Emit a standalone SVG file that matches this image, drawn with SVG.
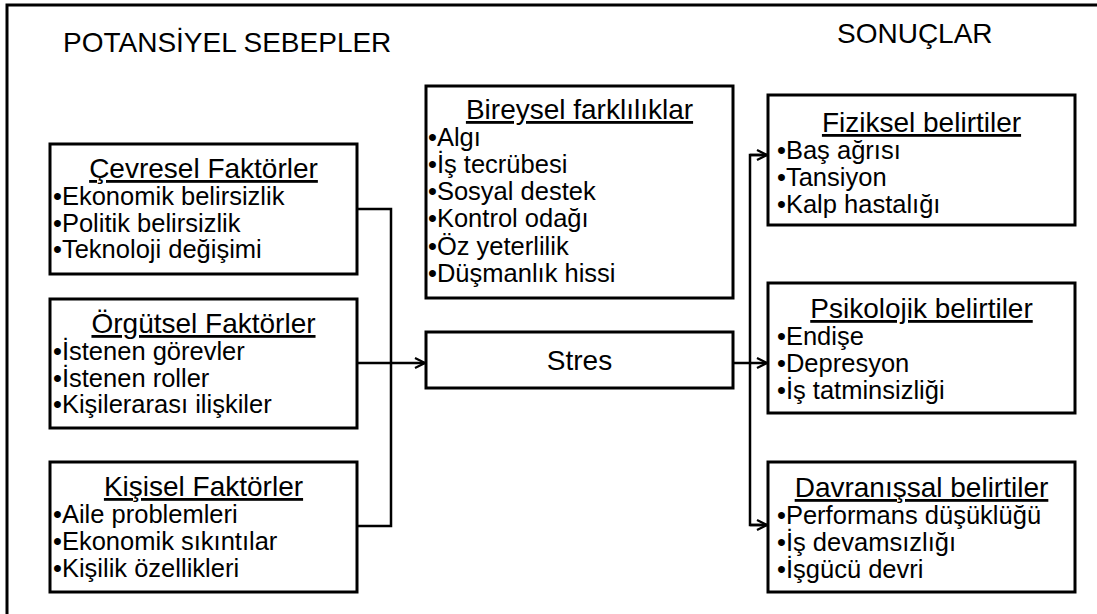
<svg xmlns="http://www.w3.org/2000/svg" width="1097" height="614" viewBox="0 0 1097 614">
<defs>
<style>
text{font-family:"Liberation Sans",Arial,sans-serif;fill:#000}
.title{font-size:28px}
.hd{font-size:28px;text-anchor:middle;text-decoration:underline}
.it{font-size:25.5px}
.box{fill:#fff;stroke:#000;stroke-width:3}
.con{fill:none;stroke:#000;stroke-width:2.5}
</style>
<marker id="ah" viewBox="0 0 12 12" refX="11" refY="6" markerWidth="12" markerHeight="12" markerUnits="userSpaceOnUse" orient="auto">
<path d="M1,1 L11,6 L1,11" fill="none" stroke="#000" stroke-width="2.2"/>
</marker>
</defs>
<rect x="0" y="0" width="1097" height="614" fill="#fff"/>
<rect id="frame" x="7" y="5" width="1200" height="700" fill="none" stroke="#000" stroke-width="3"/>
<text class="title" x="63" y="52">POTANSİYEL SEBEPLER</text>
<text class="title" x="837" y="43">SONUÇLAR</text>

<g id="connectors">
<polyline class="con" points="357,209 391,209 391,526 357,526"/>
<line class="con" x1="357" y1="363" x2="425" y2="363" marker-end="url(#ah)"/>
<line class="con" x1="733" y1="363" x2="767" y2="363" marker-end="url(#ah)"/>
<polyline class="con" points="767,155 750,155 750,525 767,525"/>
<line class="con" x1="750" y1="155" x2="767" y2="155" marker-end="url(#ah)"/>
<line class="con" x1="750" y1="525" x2="767" y2="525" marker-end="url(#ah)"/>
</g>

<g id="cevresel">
<rect class="box" x="50" y="144" width="307" height="130"/>
<text class="hd" x="203.5" y="178">Çevresel Faktörler</text>
<text class="it" x="53" y="205">•Ekonomik belirsizlik</text>
<text class="it" x="53" y="232">•Politik belirsizlik</text>
<text class="it" x="53" y="258">•Teknoloji değişimi</text>
</g>

<g id="orgutsel">
<rect class="box" x="50" y="299" width="307" height="129"/>
<text class="hd" x="203.5" y="333">Örgütsel Faktörler</text>
<text class="it" x="53" y="360">•İstenen görevler</text>
<text class="it" x="53" y="387">•İstenen roller</text>
<text class="it" x="53" y="413">•Kişilerarası ilişkiler</text>
</g>

<g id="kisisel">
<rect class="box" x="50" y="462" width="307" height="130"/>
<text class="hd" x="203.5" y="496">Kişisel Faktörler</text>
<text class="it" x="53" y="523">•Aile problemleri</text>
<text class="it" x="53" y="550">•Ekonomik sıkıntılar</text>
<text class="it" x="53" y="577">•Kişilik özellikleri</text>
</g>

<g id="bireysel">
<rect class="box" x="426" y="86" width="307" height="212"/>
<text class="hd" x="579.5" y="119">Bireysel farklılıklar</text>
<text class="it" x="428" y="146">•Algı</text>
<text class="it" x="428" y="173">•İş tecrübesi</text>
<text class="it" x="428" y="200">•Sosyal destek</text>
<text class="it" x="428" y="227">•Kontrol odağı</text>
<text class="it" x="428" y="255">•Öz yeterlilik</text>
<text class="it" x="428" y="282">•Düşmanlık hissi</text>
</g>

<g id="stres">
<rect class="box" x="426" y="332" width="307" height="56"/>
<text x="579.5" y="370" font-size="28" text-anchor="middle">Stres</text>
</g>

<g id="fiziksel">
<rect class="box" x="768" y="95" width="307" height="130"/>
<text class="hd" x="921.5" y="132">Fiziksel belirtiler</text>
<text class="it" x="777" y="159">•Baş ağrısı</text>
<text class="it" x="777" y="186">•Tansiyon</text>
<text class="it" x="777" y="213">•Kalp hastalığı</text>
</g>

<g id="psikolojik">
<rect class="box" x="768" y="283" width="307" height="130"/>
<text class="hd" x="921.5" y="318">Psikolojik belirtiler</text>
<text class="it" x="777" y="345">•Endişe</text>
<text class="it" x="777" y="372">•Depresyon</text>
<text class="it" x="777" y="399">•İş tatminsizliği</text>
</g>

<g id="davranissal">
<rect class="box" x="768" y="462" width="307" height="130"/>
<text class="hd" x="921.5" y="497">Davranışsal belirtiler</text>
<text class="it" x="777" y="524">•Performans düşüklüğü</text>
<text class="it" x="777" y="551">•İş devamsızlığı</text>
<text class="it" x="777" y="578">•İşgücü devri</text>
</g>
</svg>
